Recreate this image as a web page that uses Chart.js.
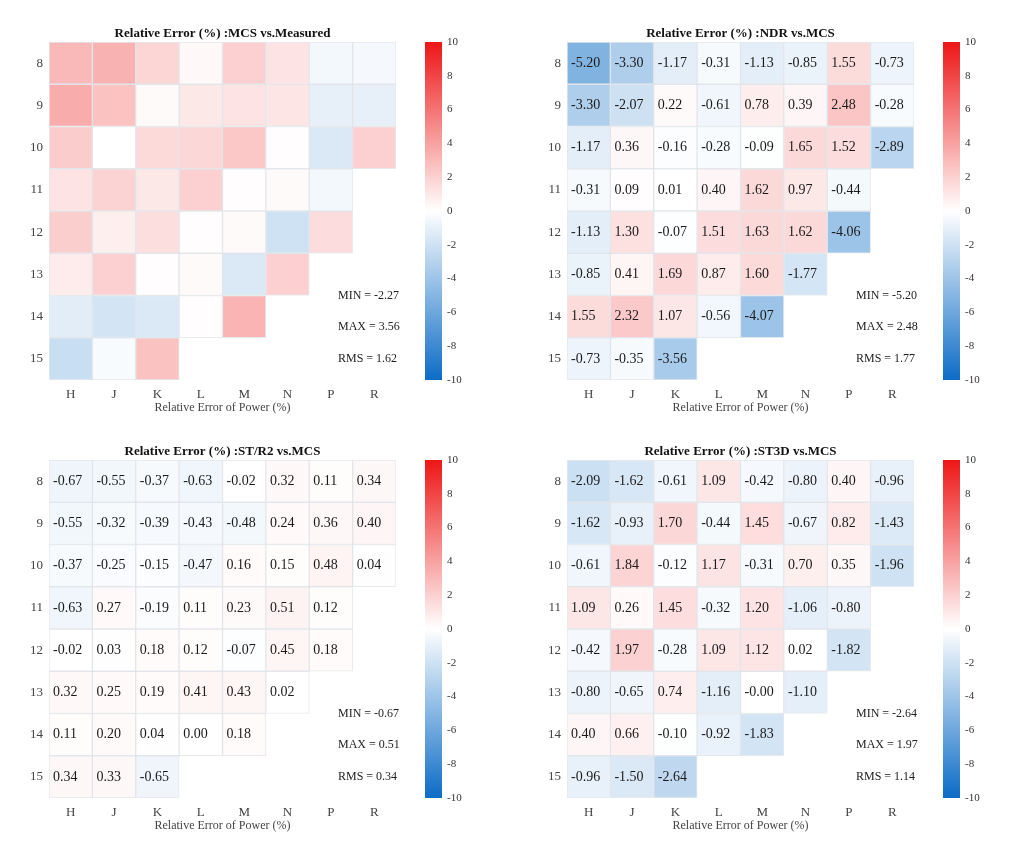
<!DOCTYPE html>
<html>
<head>
<meta charset="utf-8">
<script src="https://cdn.jsdelivr.net/npm/chart.js@4.4.1/dist/chart.umd.min.js"></script>
<style>
  body { margin: 0; background: #fff; }
  .panel { position: absolute; width: 494px; height: 418px; }
</style>
</head>
<body>
<div class="panel" style="left:0;top:0"><canvas id="c1"></canvas></div>
<div class="panel" style="left:518px;top:0"><canvas id="c2"></canvas></div>
<div class="panel" style="left:0;top:418px"><canvas id="c3"></canvas></div>
<div class="panel" style="left:518px;top:418px"><canvas id="c4"></canvas></div>
<script>
// assemblies columns and rows
var cols = ['H', 'J', 'K', 'L', 'M', 'N', 'P', 'R'];
var rows = [8, 9, 10, 11, 12, 13, 14, 15];
var cbTicks = [10, 8, 6, 4, 2, 0, -2, -4, -6, -8, -10];

// MCS vs Measured (no numbers printed, read from the colours)
var mcsMeas = [
  [3.0, 3.3, 1.8, 0.3, 2.0, 1.2, -0.5, -0.4],
  [3.56, 2.6, 0.2, 1.0, 1.2, 1.1, -1.0, -1.0],
  [2.2, 0.0, 1.6, 1.7, 2.4, 0.1, -1.5, 2.0],
  [1.2, 1.9, 1.0, 2.0, 0.1, 0.2, -0.5],
  [2.1, 0.7, 1.4, 0.1, 0.2, -2.0, 1.5],
  [0.8, 2.0, 0.1, 0.2, -1.5, 2.0],
  [-1.2, -1.8, -1.5, 0.1, 3.2],
  [-2.27, -0.3, 2.6]
];
var ndrMcs = [
  [-5.20, -3.30, -1.17, -0.31, -1.13, -0.85, 1.55, -0.73],
  [-3.30, -2.07, 0.22, -0.61, 0.78, 0.39, 2.48, -0.28],
  [-1.17, 0.36, -0.16, -0.28, -0.09, 1.65, 1.52, -2.89],
  [-0.31, 0.09, 0.01, 0.40, 1.62, 0.97, -0.44],
  [-1.13, 1.30, -0.07, 1.51, 1.63, 1.62, -4.06],
  [-0.85, 0.41, 1.69, 0.87, 1.60, -1.77],
  [1.55, 2.32, 1.07, -0.56, -4.07],
  [-0.73, -0.35, -3.56]
];
var str2Mcs = [
  [-0.67, -0.55, -0.37, -0.63, -0.02, 0.32, 0.11, 0.34],
  [-0.55, -0.32, -0.39, -0.43, -0.48, 0.24, 0.36, 0.40],
  [-0.37, -0.25, -0.15, -0.47, 0.16, 0.15, 0.48, 0.04],
  [-0.63, 0.27, -0.19, 0.11, 0.23, 0.51, 0.12],
  [-0.02, 0.03, 0.18, 0.12, -0.07, 0.45, 0.18],
  [0.32, 0.25, 0.19, 0.41, 0.43, 0.02],
  [0.11, 0.20, 0.04, 0.00, 0.18],
  [0.34, 0.33, -0.65]
];
var st3dMcs = [
  [-2.09, -1.62, -0.61, 1.09, -0.42, -0.80, 0.40, -0.96],
  [-1.62, -0.93, 1.70, -0.44, 1.45, -0.67, 0.82, -1.43],
  [-0.61, 1.84, -0.12, 1.17, -0.31, 0.70, 0.35, -1.96],
  [1.09, 0.26, 1.45, -0.32, 1.20, -1.06, -0.80],
  [-0.42, 1.97, -0.28, 1.09, 1.12, 0.02, -1.82],
  [-0.80, -0.65, 0.74, -1.16, -0.004, -1.10],
  [0.40, 0.66, -0.10, -0.92, -1.83],
  [-0.96, -1.50, -2.64]
];

var titles = ['Relative Error (%) :MCS vs.Measured', 'Relative Error (%) :NDR vs.MCS',
              'Relative Error (%) :ST/R2 vs.MCS', 'Relative Error (%) :ST3D vs.MCS'];
var statMin = ['-2.27', '-5.20', '-0.67', '-2.64'];
var statMax = ['3.56', '2.48', '0.51', '1.97'];
var statRms = ['1.62', '1.77', '0.34', '1.14'];

var FONT = "'Liberation Serif', 'DejaVu Serif', serif";
var RED = [238, 22, 22], BLUE = [12, 108, 198];

function cmap(v) {
  var t = Math.max(-1, Math.min(1, v / 10));
  var end = t >= 0 ? RED : BLUE;
  var a = Math.abs(t);
  var c = end.map(function(e) { return Math.round(255 + (e - 255) * a); });
  return 'rgb(' + c.join(',') + ')';
}

function makeChart(id, idx, vals, showNums) {
  var datasets = rows.map(function(r, i) {
    return {
      data: cols.map(function(c, j) { return j < vals[i].length ? [r - 0.5, r + 0.5] : null; }),
      backgroundColor: cols.map(function(c, j) { return j < vals[i].length ? cmap(vals[i][j]) : 'rgba(0,0,0,0)'; }),
      borderColor: 'rgba(205,212,220,0.5)',
      borderWidth: 1,
      borderSkipped: false,
      grouped: false,
      barPercentage: 1,
      categoryPercentage: 1
    };
  });

  var decor = {
    id: 'decor',
    afterDatasetsDraw: function(chart) {
      var ctx = chart.ctx, a = chart.chartArea;
      ctx.save();
      // cell values
      if (showNums) {
        ctx.font = '14px ' + FONT;
        ctx.fillStyle = '#1a1a1a';
        ctx.textAlign = 'left';
        ctx.textBaseline = 'middle';
        chart.data.datasets.forEach(function(ds, i) {
          chart.getDatasetMeta(i).data.forEach(function(el, j) {
            if (ds.data[j] == null) return;
            var p = el.getCenterPoint();
            ctx.fillText(vals[i][j].toFixed(2), p.x - el.width / 2 + 4, p.y);
          });
        });
      }
      // title
      ctx.font = 'bold 13px ' + FONT;
      ctx.fillStyle = '#111';
      ctx.textAlign = 'center';
      ctx.textBaseline = 'middle';
      ctx.fillText(titles[idx], (a.left + a.right) / 2, a.top - 8);
      // stats
      ctx.font = '12px ' + FONT;
      ctx.fillStyle = '#222';
      ctx.textAlign = 'left';
      ctx.fillText('MIN = ' + statMin[idx], a.left + 289, a.top + 254);
      ctx.fillText('MAX = ' + statMax[idx], a.left + 289, a.top + 285);
      ctx.fillText('RMS = ' + statRms[idx], a.left + 289, a.top + 317);
      // colour bar
      var x0 = a.right + 29, w = 17, top = a.top, h = a.bottom - a.top;
      var g = ctx.createLinearGradient(0, top, 0, top + h);
      g.addColorStop(0, cmap(10));
      g.addColorStop(0.5, cmap(0));
      g.addColorStop(1, cmap(-10));
      ctx.fillStyle = g;
      ctx.fillRect(x0, top, w, h);
      ctx.font = '11px ' + FONT;
      ctx.fillStyle = '#333';
      cbTicks.forEach(function(v) {
        ctx.fillText(String(v), x0 + w + 5, top + (10 - v) / 20 * h);
      });
      ctx.restore();
    }
  };

  return new Chart(document.getElementById(id), {
    type: 'bar',
    data: { labels: cols, datasets: datasets },
    options: {
      responsive: true,
      maintainAspectRatio: false,
      animation: false,
      layout: { padding: { left: 0, right: 98, top: 42, bottom: 0 } },
      plugins: { legend: { display: false }, tooltip: { enabled: false } },
      scales: {
        x: {
          grid: { display: false, drawTicks: false },
          border: { display: false },
          ticks: { padding: 7, color: '#444', font: { family: FONT, size: 13 } },
          title: { display: true, text: 'Relative Error of Power (%)', color: '#444',
                   font: { family: FONT, size: 12 }, padding: { top: 0, bottom: 3 } },
          afterFit: function(s) { s.height = 38; }
        },
        y: {
          type: 'linear',
          min: 7.5,
          max: 15.5,
          reverse: true,
          grid: { display: false, drawTicks: false },
          border: { display: false },
          afterBuildTicks: function(s) { s.ticks = rows.map(function(v) { return { value: v }; }); },
          ticks: { padding: 6, color: '#444', font: { family: FONT, size: 13 } },
          afterFit: function(s) { s.width = 49; }
        }
      }
    },
    plugins: [decor]
  });
}

makeChart('c1', 0, mcsMeas, false);
makeChart('c2', 1, ndrMcs, true);
makeChart('c3', 2, str2Mcs, true);
makeChart('c4', 3, st3dMcs, true);
</script>
</body>
</html>
